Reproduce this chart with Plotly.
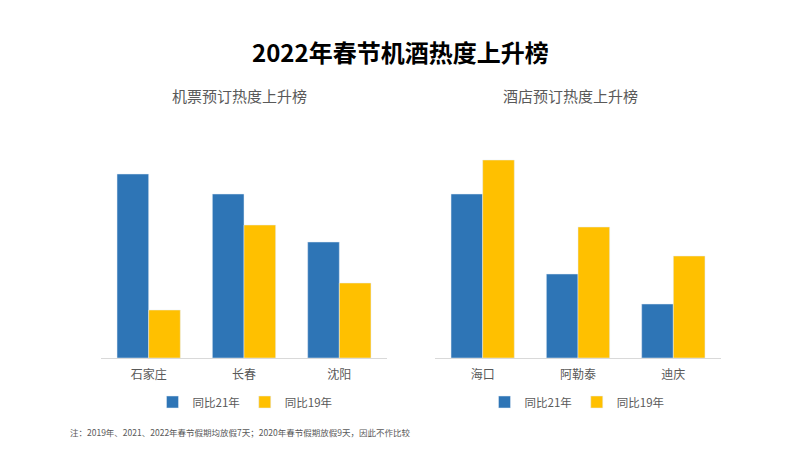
import plotly.graph_objects as go

title_text = "2022年春节机酒热度上升榜"
left_title = "机票预订热度上升榜"
right_title = "酒店预订热度上升榜"
left_cats = ["石家庄", "长春", "沈阳"]
right_cats = ["海口", "阿勒泰", "迪庆"]
series_names = ["同比21年", "同比19年"]
left_vs21 = [184, 164, 116]
left_vs19 = [48, 133, 75]
right_vs21 = [164, 84, 54]
right_vs19 = [198, 131, 102]
footnote = "注：2019年、2021、2022年春节假期均放假7天；2020年春节假期放假9天，因此不作比较"

BLUE = "#2E75B6"
YELLOW = "#FFC000"
FONT = "Noto Sans CJK SC"
GRAY = "#595959"
OFF = 8  # page body margin


def px(xp):
    return (xp - OFF) / 800


def py(yp):
    return 1 - (yp - OFF) / 450


fig = go.Figure()
fig.add_trace(go.Bar(x=left_cats, y=left_vs21, name=series_names[0], marker_color=BLUE,
                     xaxis="x", yaxis="y", legend="legend"))
fig.add_trace(go.Bar(x=left_cats, y=left_vs19, name=series_names[1], marker_color=YELLOW,
                     xaxis="x", yaxis="y", legend="legend"))
fig.add_trace(go.Bar(x=right_cats, y=right_vs21, name=series_names[0], marker_color=BLUE,
                     xaxis="x2", yaxis="y2", legend="legend2"))
fig.add_trace(go.Bar(x=right_cats, y=right_vs19, name=series_names[1], marker_color=YELLOW,
                     xaxis="x2", yaxis="y2", legend="legend2"))

ydom = [py(358), py(158)]
xaxis_common = dict(showline=True, linecolor="#D9D9D9", linewidth=1, ticks="",
                    showgrid=False, zeroline=False, ticklabelstandoff=6,
                    tickfont=dict(family=FONT, size=12, color=GRAY))
yaxis_common = dict(range=[0, 200], visible=False, showgrid=False, zeroline=False)

legend_common = dict(orientation="h", xanchor="center", yanchor="middle",
                     font=dict(family=FONT, size=11.5, color=GRAY),
                     bgcolor="rgba(0,0,0,0)", itemwidth=30,
                     traceorder="normal")

fig.update_layout(
    width=800, height=450,
    margin=dict(l=0, r=0, t=0, b=0),
    paper_bgcolor="white", plot_bgcolor="white",
    barmode="group", bargap=0.336, bargroupgap=0,
    xaxis=dict(domain=[px(101), px(387)], anchor="y", **xaxis_common),
    yaxis=dict(domain=ydom, anchor="x", **yaxis_common),
    xaxis2=dict(domain=[px(435), px(721)], anchor="y2", **xaxis_common),
    yaxis2=dict(domain=ydom, anchor="x2", **yaxis_common),
    legend=dict(x=px(245), y=py(402), **legend_common),
    legend2=dict(x=px(577), y=py(402), **legend_common),
    annotations=[
        dict(text=f"<b>{title_text}</b>", x=px(400), y=py(52), xref="paper", yref="paper",
             showarrow=False, xanchor="center", yanchor="middle",
             font=dict(family=FONT, size=24, color="#000000")),
        dict(text=left_title, x=px(240), y=py(95), xref="paper", yref="paper",
             showarrow=False, xanchor="center", yanchor="middle",
             font=dict(family=FONT, size=15, color=GRAY)),
        dict(text=right_title, x=px(570), y=py(95), xref="paper", yref="paper",
             showarrow=False, xanchor="center", yanchor="middle",
             font=dict(family=FONT, size=15, color=GRAY)),
        dict(text=footnote, x=px(68), y=py(432), xref="paper", yref="paper",
             showarrow=False, xanchor="left", yanchor="middle",
             font=dict(family=FONT, size=8.5, color=GRAY)),
    ],
)

fig.write_html("out.html")
